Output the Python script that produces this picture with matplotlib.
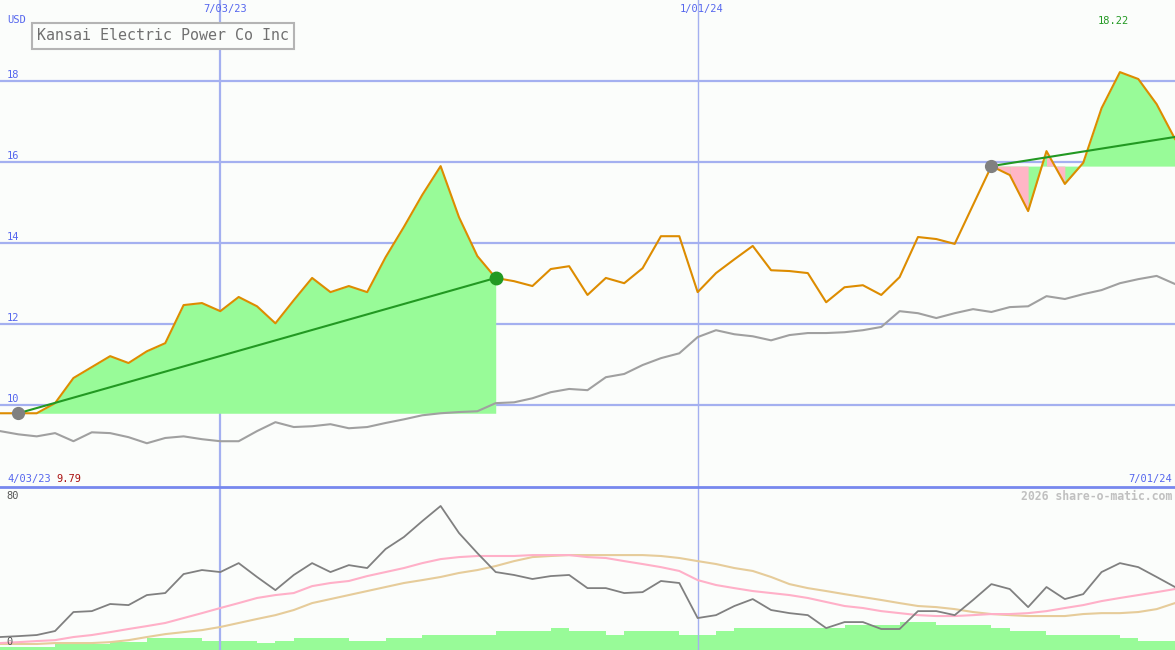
import matplotlib
matplotlib.use('Agg')
import matplotlib.pyplot as plt
import numpy as np
import pandas as pd

# weekly closes, USD
dates = pd.date_range('2023-04-10', periods=65, freq='7D')
price = [9.80, 9.80, 9.80, 10.05, 10.67, 10.94, 11.21, 11.04, 11.33, 11.53,
         12.47, 12.52, 12.32, 12.67, 12.44, 12.02, 12.59, 13.14, 12.79, 12.94,
         12.79, 13.65, 14.40, 15.19, 15.90, 14.64, 13.68, 13.14, 13.06, 12.94,
         13.36, 13.43, 12.72, 13.14, 13.01, 13.38, 14.17, 14.17, 12.79, 13.26,
         13.60, 13.93, 13.33, 13.31, 13.26, 12.54, 12.91, 12.96, 12.72, 13.16,
         14.15, 14.10, 13.98, 14.94, 15.90, 15.68, 14.79, 16.27, 15.46, 15.98,
         17.33, 18.22, 18.05, 17.43, 16.57]
# comparison line (grey)
index_line = [9.36, 9.28, 9.23, 9.31, 9.11, 9.33, 9.31, 9.21, 9.06, 9.19,
              9.23, 9.16, 9.11, 9.11, 9.36, 9.58, 9.46, 9.48, 9.53, 9.43,
              9.46, 9.56, 9.65, 9.75, 9.80, 9.83, 9.85, 10.05, 10.07, 10.17,
              10.32, 10.40, 10.37, 10.69, 10.77, 10.99, 11.16, 11.28, 11.68, 11.85,
              11.75, 11.70, 11.60, 11.73, 11.78, 11.78, 11.80, 11.85, 11.93, 12.32,
              12.27, 12.15, 12.27, 12.37, 12.30, 12.42, 12.44, 12.69, 12.62, 12.74,
              12.84, 13.01, 13.11, 13.19, 12.99]
# lower panel: oscillator and two averages
osc = [3.3, 3.8, 4.4, 6.6, 17.0, 17.5, 21.4, 20.8, 26.3, 27.4,
       37.8, 40.0, 38.9, 43.8, 36.2, 29.0, 37.3, 43.8, 38.9, 42.7,
       41.1, 51.5, 58.1, 66.8, 75.1, 60.3, 49.3, 38.9, 37.3, 35.1,
       36.7, 37.3, 30.1, 30.1, 27.4, 27.9, 34.0, 32.9, 13.7, 15.3,
       20.3, 24.1, 18.1, 16.4, 15.3, 8.2, 11.5, 11.5, 7.7, 7.7,
       17.5, 17.5, 15.3, 23.6, 32.3, 29.6, 19.7, 30.7, 24.1, 26.8,
       38.9, 43.8, 41.6, 36.2, 30.7]
osc_fast = [0.0, 0.5, 1.1, 1.6, 3.3, 4.4, 6.0, 7.7, 9.3, 11.0,
            13.7, 16.4, 19.2, 21.9, 24.7, 26.3, 27.4, 31.2, 32.9, 34.0,
            36.7, 38.9, 41.1, 43.8, 46.0, 47.1, 47.7, 47.7, 47.7, 48.2,
            48.2, 48.2, 47.1, 46.6, 44.9, 43.3, 41.6, 39.5, 34.5, 31.8,
            30.1, 28.5, 27.4, 26.3, 24.7, 22.5, 20.3, 19.2, 17.5, 16.4,
            15.3, 14.8, 14.8, 15.3, 15.9, 15.9, 16.4, 17.5, 19.2, 20.8,
            23.0, 24.7, 26.3, 27.9, 29.6]
osc_slow = [-0.5, -0.5, -0.5, 0.0, 0.0, 0.0, 0.5, 1.6, 3.3, 4.9,
            6.0, 7.1, 8.8, 11.0, 13.2, 15.3, 18.1, 21.9, 24.1, 26.3,
            28.5, 30.7, 32.9, 34.5, 36.2, 38.4, 40.0, 42.2, 44.9, 47.1,
            47.7, 48.2, 48.2, 48.2, 48.2, 48.2, 47.7, 46.6, 44.9, 43.3,
            41.1, 39.5, 36.2, 32.3, 30.1, 28.5, 26.8, 25.2, 23.6, 21.9,
            20.3, 19.7, 18.6, 17.0, 15.9, 15.3, 14.8, 14.8, 14.8, 15.9,
            16.4, 16.4, 17.0, 18.6, 21.9]
volume = [3, 3, 3, 7, 7, 6, 8, 8, 12, 12, 12, 9, 9, 9, 7, 9, 12, 12, 12, 9,
          9, 12, 12, 15, 15, 15, 15, 19, 19, 19, 22, 19, 19, 15, 19, 19, 19, 15,
          15, 19, 22, 22, 22, 22, 22, 22, 25, 25, 25, 28, 28, 25, 25, 25, 22, 19,
          19, 15, 15, 15, 15, 12, 9, 9]

# trend segments: start index, end index
trend1 = (1, 27)
trend2_start = 54
trend2_end_value = 16.62

GRID = '#a4b0f0'
LABEL = '#5566ee'
GREEN_FILL = '#98fb98'
PINK_FILL = '#ffb6c6'
BG = '#fbfdfb'
FONT = 'DejaVu Sans Mono'

W, H = 1175, 650
fig = plt.figure(figsize=(W / 100, H / 100), dpi=100, facecolor=BG)

def fx(x):
    return x / W

def fy(y):
    return 1 - y / H

ax = fig.add_axes([0, fy(487), 1, 487 / H])
ax2 = fig.add_axes([0, 0, 1, (H - 487) / H])
axv = ax2.twinx()
for a in (ax, ax2, axv):
    a.set_xlim(dates[0], dates[-1])
    for s in a.spines.values():
        s.set_visible(False)
    a.set_xticks([])
    a.set_yticks([])
ax.set_facecolor(BG)
axv.set_facecolor(BG)
axv.set_zorder(ax2.get_zorder() - 1)
ax2.patch.set_visible(False)

# top panel
ax.set_ylim(7.98, 20.0)
for v in [10, 12, 14, 16, 18]:
    ax.axhline(v, color=GRID, lw=1.6, zorder=1)
ax.axvline(pd.Timestamp('2023-07-03'), color=GRID, lw=1.6, zorder=1)
ax.axvline(pd.Timestamp('2024-01-01'), color=GRID, lw=1.0, zorder=1)

p = np.array(price)
i0, i1 = trend1
base1 = p[i0]
ax.fill_between(dates[i0:i1 + 1], p[i0:i1 + 1], base1, where=p[i0:i1 + 1] >= base1,
                interpolate=True, color=GREEN_FILL, lw=0, zorder=2)
base2 = p[trend2_start]
ax.fill_between(dates[trend2_start:], p[trend2_start:], base2, color=GREEN_FILL, lw=0, zorder=2)
# falling weeks that dip under the start level are shaded pink
for i in range(trend2_start, len(p) - 1):
    if p[i + 1] < p[i] and min(p[i], p[i + 1]) < base2:
        ax.fill_between(dates[i:i + 2], p[i:i + 2], base2, color=PINK_FILL, lw=0, zorder=2.1)

ax.plot(dates, index_line, color='#a0a0a0', lw=1.5, zorder=3)
ax.plot(dates, price, color='#dd8c00', lw=1.5, zorder=4)
ax.plot([dates[i0], dates[i1]], [p[i0], p[i1]], color='#229922', lw=1.5, zorder=5)
ax.plot([dates[trend2_start], dates[-1]], [base2, trend2_end_value], color='#229922', lw=1.5, zorder=5)
ax.plot(dates[i0], p[i0], 'o', color='#808080', ms=8.5, zorder=6)
ax.plot(dates[trend2_start], p[trend2_start], 'o', color='#808080', ms=8.5, zorder=6)
ax.plot(dates[i1], p[i1], 'o', color='#229922', ms=9, zorder=6)

# lower panel
ax2.set_ylim(-3.8, 85.5)
axv.set_ylim(0, 163)
axv.bar(dates[:-1], volume, width=7, align='edge', color=GREEN_FILL, lw=0)
ax2.axvline(pd.Timestamp('2023-07-03'), color=GRID, lw=1.6, zorder=1)
ax2.axvline(pd.Timestamp('2024-01-01'), color=GRID, lw=1.0, zorder=1)
ax2.plot(dates, osc_slow, color='#e6cc9a', lw=1.5, zorder=3)
ax2.plot(dates, osc_fast, color='#ffb0c8', lw=1.5, zorder=3)
ax2.plot(dates, osc, color='#808080', lw=1.3, zorder=4)

# divider
fig.add_artist(plt.Line2D([0, 1], [fy(487), fy(487)], color='#7788ee', lw=2, transform=fig.transFigure))

# labels
fig.text(fx(7), fy(20), 'USD', color=LABEL, fontsize=7.5, family=FONT, va='center')
for v, y in [(18, 75), (16, 156), (14, 237), (12, 318), (10, 399)]:
    fig.text(fx(7), fy(y), str(v), color=LABEL, fontsize=7.5, family=FONT, va='center')
fig.text(fx(225), fy(9), '7/03/23', color=LABEL, fontsize=7.5, family=FONT, ha='center', va='center')
fig.text(fx(702), fy(9), '1/01/24', color=LABEL, fontsize=7.5, family=FONT, ha='center', va='center')
fig.text(fx(1113), fy(21), '18.22', color='#229922', fontsize=7.5, family=FONT, ha='center', va='center')
fig.text(fx(7), fy(479), '4/03/23', color=LABEL, fontsize=7.5, family=FONT, va='center')
fig.text(fx(56), fy(479), '9.79', color='#aa1111', fontsize=7.5, family=FONT, va='center')
fig.text(fx(1172), fy(479), '7/01/24', color=LABEL, fontsize=7.5, family=FONT, ha='right', va='center')
fig.text(fx(1172), fy(496), '2026 share-o-matic.com', color='#c0c0c0', fontsize=8.3,
         family=FONT, fontweight='bold', ha='right', va='center')
fig.text(fx(6), fy(496), '80', color='#555555', fontsize=7.5, family=FONT, va='center')
fig.text(fx(6), fy(642), '0', color='#555555', fontsize=7.5, family=FONT, va='center')
fig.text(fx(37), fy(36), 'Kansai Electric Power Co Inc', color='#707070', fontsize=10.8, family=FONT,
         va='center',
         bbox=dict(boxstyle='square,pad=0.35', fc=BG, ec='#b4b4b4', lw=1.5))

fig.savefig('out.png', dpi=100, facecolor=BG)
